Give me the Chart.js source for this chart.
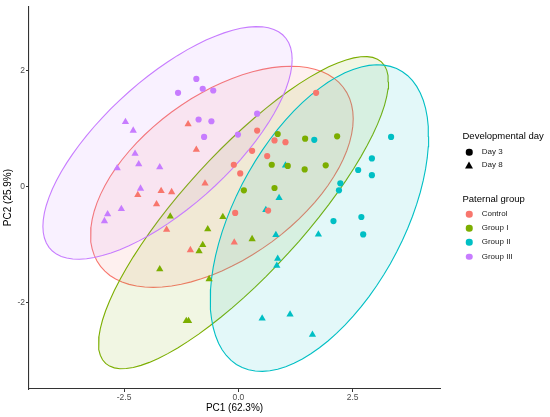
<!DOCTYPE html>
<html><head><meta charset="utf-8">
<script src="https://cdn.jsdelivr.net/npm/chart.js@4.4.1/dist/chart.umd.min.js"></script>
<style>
html,body{margin:0;padding:0;background:#fff;}
#wrap{position:relative;width:550px;height:417px;font-family:"Liberation Sans",Arial,Helvetica,sans-serif;}
#c{position:absolute;left:0;top:0;}
.lg{position:absolute;white-space:nowrap;transform:translateY(-50%);line-height:1;}
.lt{font-size:9.5px;color:#000;}
.li{font-size:8px;color:#1a1a1a;}
.mk{position:absolute;transform:translate(-50%,-50%);}
</style></head><body>
<div id="wrap"><canvas id="c" width="550" height="417"></canvas><div id="legend"></div></div>
<script>
// ---- data (PC1, PC2) ----
const groups = ['Control', 'Group I', 'Group II', 'Group III'];
const days = ['Day 3', 'Day 8'];
const groupColors = ['#F8766D', '#7CAE00', '#00BFC4', '#C77CFF'];
const xTicks = [-2.5, 0, 2.5];
const yTicks = [-2, 0, 2];

const controlDay3 = [[1.70,1.62],[0.41,0.97],[0.79,0.80],[1.03,0.77],[0.30,0.62],[0.63,0.53],[-0.10,0.38],[0.04,0.23],[-0.07,-0.45],[0.65,-0.41]];
const controlDay8 = [[-1.10,1.08],[-0.92,0.64],[-0.73,0.06],[-1.69,-0.07],[-1.46,-0.09],[-2.20,-0.14],[-1.79,-0.30],[-1.57,-0.74],[-1.05,-1.09],[-0.09,-0.96]];
const group1Day3 = [[0.86,0.91],[1.46,0.83],[2.16,0.87],[0.73,0.38],[1.08,0.36],[1.45,0.30],[1.91,0.37],[0.12,-0.06],[0.79,-0.02]];
const group1Day8 = [[-1.49,-0.51],[-0.34,-0.52],[-0.67,-0.73],[-0.78,-1.00],[-0.86,-1.11],[-1.72,-1.42],[-0.64,-1.59],[-1.14,-2.31],[-1.09,-2.31],[0.30,-0.90]];
const group2Day3 = [[1.66,0.81],[3.34,0.86],[2.92,0.49],[2.62,0.29],[2.92,0.20],[2.23,0.06],[2.20,-0.06],[2.69,-0.52],[2.08,-0.59],[2.73,-0.82]];
const group2Day8 = [[1.03,0.37],[0.89,-0.19],[0.60,-0.40],[0.82,-0.83],[1.75,-0.82],[0.86,-1.24],[0.84,-1.36],[0.52,-2.27],[1.13,-2.20],[1.62,-2.55]];
const group3Day3 = [[-0.92,1.86],[-1.32,1.62],[-0.78,1.69],[-0.55,1.66],[-0.87,1.16],[-0.59,1.13],[-0.75,0.86],[-0.01,0.90],[0.41,1.26]];
const group3Day8 = [[-2.47,1.12],[-2.30,0.97],[-2.26,0.57],[-2.18,0.39],[-2.65,0.32],[-1.72,0.34],[-2.14,-0.03],[-2.56,-0.38],[-2.86,-0.47],[-2.93,-0.59]];

const groupData = [
  [controlDay3, controlDay8],
  [group1Day3, group1Day8],
  [group2Day3, group2Day8],
  [group3Day3, group3Day8]
];

// ---- 95% confidence ellipse computed from each group's points (like stat_ellipse) ----
function confEllipse(pts, level, segments) {
  const n = pts.length;
  let mx = 0, my = 0;
  pts.forEach(p => { mx += p[0]; my += p[1]; });
  mx /= n; my /= n;
  let sxx = 0, syy = 0, sxy = 0;
  pts.forEach(p => { const dx = p[0]-mx, dy = p[1]-my; sxx += dx*dx; syy += dy*dy; sxy += dx*dy; });
  sxx /= (n-1); syy /= (n-1); sxy /= (n-1);
  const a = Math.sqrt(sxx), b = sxy / a, c = Math.sqrt(syy - b*b);
  const dfd = n - 1;
  const F = (dfd/2) * (Math.pow(1 - level, -2/dfd) - 1);
  const r = Math.sqrt(2 * F);
  const out = [];
  for (let i = 0; i <= segments; i++) {
    const t = i * 2 * Math.PI / segments;
    const ct = Math.cos(t), st = Math.sin(t);
    out.push({x: mx + r * a * ct, y: my + r * (b * ct + c * st)});
  }
  return out;
}

function rgba(hex, a) {
  const v = parseInt(hex.slice(1), 16);
  return `rgba(${(v>>16)&255},${(v>>8)&255},${v&255},${a})`;
}

const datasets = [];
groups.forEach((g, gi) => {
  const all = groupData[gi][0].concat(groupData[gi][1]);
  datasets.push({
    label: g + ' ellipse',
    data: confEllipse(all, 0.95, 80),
    showLine: true,
    fill: 'shape',
    backgroundColor: rgba(groupColors[gi], 0.11),
    borderColor: groupColors[gi],
    borderWidth: 1.1,
    pointRadius: 0,
    tension: 0,
    order: 20 - gi
  });
});
groups.forEach((g, gi) => {
  days.forEach((d, di) => {
    datasets.push({
      label: g + ' ' + d,
      data: groupData[gi][di].map(p => ({x: p[0], y: p[1]})),
      showLine: false,
      pointStyle: di === 0 ? 'circle' : 'triangle',
      pointRadius: di === 0 ? 3.1 : 4.2,
      backgroundColor: groupColors[gi],
      borderWidth: 0,
      order: 1
    });
  });
});

const FONT = '"Liberation Sans", Arial, Helvetica, sans-serif';
new Chart(document.getElementById('c'), {
  type: 'scatter',
  data: { datasets },
  options: {
    responsive: false,
    animation: false,
    events: [],
    layout: { padding: { top: 4, right: 110, left: 0, bottom: 0 } },
    plugins: { legend: { display: false }, tooltip: { enabled: false } },
    scales: {
      x: {
        type: 'linear', min: -4.58, max: 4.41,
        afterBuildTicks: s => { s.ticks = xTicks.map(v => ({ value: v })); },
        afterFit: s => { s.height = 28; },
        ticks: { callback: v => Number(v).toFixed(1), font: { size: 8.5, family: FONT }, color: '#4D4D4D', padding: 1, maxRotation: 0, autoSkip: false },
        grid: { drawOnChartArea: false, drawTicks: true, tickLength: 3, color: '#333', lineWidth: 1 },
        border: { display: true, color: '#333', width: 1.1 },
        title: { display: true, text: 'PC1 (62.3%)', color: '#000', font: { size: 10, family: FONT, lineHeight: 1.2 }, padding: { top: 0, bottom: 3 } }
      },
      y: {
        type: 'linear', min: -3.485, max: 3.115,
        afterBuildTicks: s => { s.ticks = yTicks.map(v => ({ value: v })); },
        afterFit: s => { s.width = 29; },
        ticks: { callback: v => String(v), font: { size: 8.5, family: FONT }, color: '#4D4D4D', padding: 1, autoSkip: false },
        grid: { drawOnChartArea: false, drawTicks: true, tickLength: 3, color: '#333', lineWidth: 1 },
        border: { display: true, color: '#333', width: 1.1 },
        title: { display: true, text: 'PC2 (25.9%)', color: '#000', font: { size: 10, family: FONT, lineHeight: 1.2 }, padding: { top: 2, bottom: 0 } }
      }
    }
  }
});

// ---- HTML legend ----
const legendEl = document.getElementById('legend');
function addText(txt, x, y, cls) {
  const d = document.createElement('div');
  d.className = 'lg ' + cls;
  d.style.left = x + 'px'; d.style.top = y + 'px';
  d.textContent = txt;
  legendEl.appendChild(d);
}
function addMark(shape, color, x, y) {
  const d = document.createElement('div');
  d.className = 'mk';
  d.style.left = x + 'px'; d.style.top = y + 'px';
  if (shape === 'circle') {
    d.style.width = '6.5px'; d.style.height = '6.5px'; d.style.borderRadius = '50%'; d.style.background = color;
  } else {
    d.style.width = '0'; d.style.height = '0';
    d.style.borderLeft = '4px solid transparent'; d.style.borderRight = '4px solid transparent';
    d.style.borderBottom = '7px solid ' + color;
  }
  legendEl.appendChild(d);
}
addText('Developmental day', 462.5, 136, 'lt');
days.forEach((d, i) => {
  const y = 152 + i * 12.5;
  addMark(i === 0 ? 'circle' : 'triangle', '#000', 469.3, y);
  addText(d, 481.7, y, 'li');
});
addText('Paternal group', 462.5, 198.5, 'lt');
groups.forEach((g, i) => {
  const y = 214 + i * 14.2;
  addMark('circle', groupColors[i], 469.3, y);
  addText(g, 481.7, y, 'li');
});
</script>
</body></html>
